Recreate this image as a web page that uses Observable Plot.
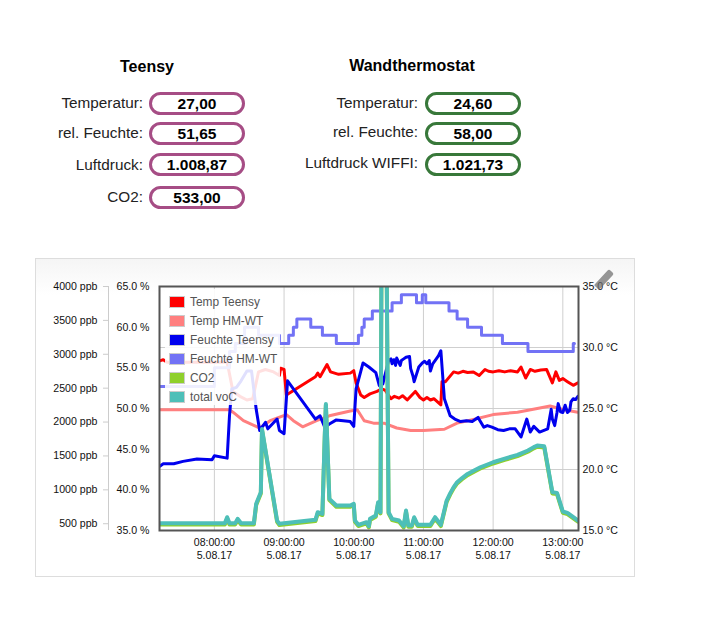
<!DOCTYPE html>
<html>
<head>
<meta charset="utf-8">
<script src="https://cdn.jsdelivr.net/npm/d3@7"></script>
<script src="https://cdn.jsdelivr.net/npm/@observablehq/plot@0.6"></script>
<style>
html,body{margin:0;padding:0;background:#fff;font-family:"Liberation Sans",Arial,sans-serif;}
#page{position:relative;width:706px;height:632px;overflow:hidden;}
.head{position:absolute;font-weight:bold;font-size:16px;color:#000;transform:translate(-50%,-50%);white-space:nowrap;}
.lab{position:absolute;font-size:15.3px;color:#222;transform:translateY(-50%);white-space:nowrap;text-align:right;}
.pill{position:absolute;box-sizing:border-box;width:96px;height:23px;border-radius:11.5px;border:3px solid;background:#fff;text-align:center;font-weight:bold;font-size:15.5px;line-height:18px;color:#000;}
#box{position:absolute;left:35px;top:258px;width:600px;height:319px;box-sizing:border-box;border:1px solid #ddd;background:linear-gradient(#f5f5f5,#fff 36px);}
#plot{position:absolute;left:0;top:0;}
#plot svg{background:transparent;display:block;}
#legend{position:absolute;left:165px;top:289px;width:115px;height:116px;background:rgba(255,255,255,.88);}
.lg{position:absolute;left:4px;height:19px;font-size:11.9px;line-height:19px;color:#545454;white-space:nowrap;padding-left:21px;}
.lg i{position:absolute;left:0;top:3px;width:14px;height:10px;border:1px solid #ccc;padding:0;}
#pen{position:absolute;left:593px;top:275.5px;width:22px;height:7px;background:rgba(110,110,110,.72);transform:rotate(-47deg);border-radius:1px 2px 2px 1px;}
</style>
</head>
<body>
<div id="page">
  <div id="box"></div>
  <div id="plot"></div>
  <div id="legend"></div>
  <div id="pen"></div>
</div>
<script>
// Tiles
const teensyLabels = ["Temperatur:", "rel. Feuchte:", "Luftdruck:", "CO2:"];
const teensyValues = ["27,00", "51,65", "1.008,87", "533,00"];
const wandLabels = ["Temperatur:", "rel. Feuchte:", "Luftdruck WIFFI:"];
const wandValues = ["24,60", "58,00", "1.021,73"];

// Series: [time, value]
const tempTeensy = [["07:13",28.9],["07:16",29.0],["07:19",28.8],["07:40",28.8],["08:11",28.8],["08:16",26.4],["08:22",26.0],["08:28",25.7],["08:33",25.8],["08:38",28.0],["08:44",28.2],["08:51",28.0],["08:56",27.7],["08:57",28.3],["09:00",28.2],["09:02",26.1],["09:27",27.6],["09:29",27.9],["09:31",27.6],["09:37",28.6],["09:40",28.0],["09:47",27.8],["09:57",27.9],["10:00",28.1],["10:02",27.1],["10:06",26.1],["10:09",25.9],["10:14",26.2],["10:20",26.4],["10:24",26.6],["10:27",26.5],["10:32",25.8],["10:35",26.0],["10:39",25.85],["10:42",26.05],["10:46",25.7],["10:53",26.4],["10:57",25.9],["11:00",25.7],["11:03",25.9],["11:06",25.7],["11:09",25.8],["11:15",25.3],["11:16",27.2],["11:19",27.2],["11:26",28.0],["11:30",27.9],["11:34",28.05],["11:38",27.95],["11:43",28.0],["11:48",27.7],["11:53",28.2],["11:56",28.05],["12:00",28.0],["12:05",28.1],["12:10",28.0],["12:15",28.1],["12:21",28.0],["12:24",28.4],["12:28",27.5],["12:32",28.2],["12:36",28.05],["12:41",28.15],["12:46",28.2],["12:51",27.1],["12:54",28.0],["12:57",27.3],["13:00",27.45],["13:04",27.2],["13:09",26.9],["13:13",27.1]];
const tempHMWT = [["07:13",24.9],["08:13",24.9],["08:16",24.7],["08:25",24.0],["08:39",23.4],["08:48",24.0],["09:02",24.5],["09:08",24.0],["09:16",23.5],["09:28",24.0],["09:39",24.4],["09:57",24.8],["10:03",24.9],["10:09",24.0],["10:17",23.8],["10:26",23.8],["10:37",23.4],["10:49",23.2],["11:00",23.2],["11:18",23.3],["11:29",23.8],["11:43",24.1],["12:00",24.5],["12:21",24.7],["12:38",25.0],["12:49",25.2],["13:01",24.9],["13:13",24.7]];
const feuchteTeensy = [["07:13",42.9],["07:16",43.2],["07:25",43.2],["07:33",43.5],["07:45",43.8],["07:58",43.7],["08:00",44.2],["08:11",43.9],["08:13",49.1],["08:15",52.4],["08:19",52.6],["08:23",53.4],["08:28",54.6],["08:32",54.6],["08:36",49.9],["08:39",47.3],["08:44",48.3],["08:46",47.5],["08:54",48.7],["08:56",47.3],["09:00",46.9],["09:03",53.4],["09:27",48.7],["09:31",49.1],["09:35",47.7],["09:39",48.1],["09:45",48.6],["09:57",48.4],["10:00",47.8],["10:02",52.4],["10:08",55.6],["10:13",55.1],["10:19",54.4],["10:22",52.8],["10:24",54.0],["10:25",53.0],["10:30",55.9],["10:32",56.1],["10:33",55.5],["10:34:30",56.0],["10:36",55.3],["10:37",56.2],["10:40",55.3],["10:41",55.9],["10:43",56.1],["10:45",56.3],["10:48",56.4],["10:49",54.9],["10:51",54.0],["10:52",53.3],["10:54",54.2],["10:56",55.1],["10:59",55.6],["11:01",55.8],["11:03",55.5],["11:05",55.9],["11:06",54.6],["11:08",55.5],["11:10",55.9],["11:13",56.5],["11:15",57.1],["11:18",51.2],["11:23",49.1],["11:27",48.7],["11:32",48.4],["11:37",48.5],["11:42",48.4],["11:47",48.9],["11:52",47.7],["11:55",47.9],["11:59",47.7],["12:04",47.4],["12:09",47.3],["12:14",47.5],["12:19",47.5],["12:24",46.5],["12:29",48.7],["12:32",47.1],["12:35",47.8],["12:40",47.1],["12:47",47.5],["12:50",49.9],["12:51",48.7],["12:53",47.9],["12:55",49.5],["12:56",50.6],["12:58",49.6],["13:00",49.5],["13:02",50.4],["13:04",49.5],["13:06",49.8],["13:07",50.8],["13:09",51.2],["13:11",51.1],["13:13",51.5]];
const feuchteHMWT = [["07:13",52.7],["08:00",55],["08:13",57],["08:18",58],["08:26",60],["08:38",59],["08:56",58],["09:04",59],["09:08",60],["09:11",61],["09:23",60],["09:33",59],["09:45",58],["10:04",59],["10:07",60],["10:09",61],["10:16",62],["10:33",63],["10:41",64],["10:54",63],["10:59",64],["11:02",63],["11:22",62],["11:29",61],["11:38",60],["11:50",59],["12:08",58],["12:30",57],["13:09",58],["13:10",58]];
const co2 = [["07:13",490],["08:09",490],["08:11",578],["08:13",490],["08:18",490],["08:20",554],["08:23",490],["08:34",490],["08:36",775],["08:40",947],["08:41",1880],["08:54",529],["08:56",480],["09:27",539],["09:29",652],["09:33",628],["09:35",1757],["09:36",2249],["09:39",849],["09:45",750],["09:57",750],["10:00",775],["10:01",529],["10:04",466],["10:11",505],["10:13",446],["10:14",554],["10:19",603],["10:21",800],["10:23",652],["10:24",5000],["10:28",5000],["10:30",652],["10:33",554],["10:39",529],["10:43",446],["10:45",677],["10:47",456],["10:50",456],["10:52",578],["10:55",466],["11:06",466],["11:10",578],["11:15",466],["11:20",824],["11:23",930],["11:26",1022],["11:29",1094],["11:33",1152],["11:38",1217],["11:44",1272],["11:49",1315],["12:00",1389],["12:10",1442],["12:21",1497],["12:30",1562],["12:35",1612],["12:38",1635],["12:44",1625],["12:51",947],["12:55",937],["13:00",662],["13:04",642],["13:13",529]];
const totalVoC = [["07:13",508],["08:09",508],["08:11",596],["08:13",508],["08:18",508],["08:20",572],["08:23",508],["08:34",508],["08:36",793],["08:40",965],["08:41",1898],["08:54",547],["08:56",498],["09:27",557],["09:29",670],["09:33",646],["09:35",1775],["09:36",2267],["09:39",867],["09:45",768],["09:57",768],["10:00",793],["10:01",547],["10:04",484],["10:11",523],["10:13",464],["10:14",572],["10:19",621],["10:21",818],["10:23",670],["10:24",5000],["10:28",5000],["10:30",670],["10:33",572],["10:39",547],["10:43",464],["10:45",695],["10:47",474],["10:50",474],["10:52",596],["10:55",484],["11:06",484],["11:10",596],["11:15",484],["11:20",842],["11:23",948],["11:26",1040],["11:29",1112],["11:33",1170],["11:38",1235],["11:44",1290],["11:49",1333],["12:00",1407],["12:10",1460],["12:21",1515],["12:30",1580],["12:35",1630],["12:38",1653],["12:44",1643],["12:51",965],["12:55",955],["13:00",680],["13:04",660],["13:13",547]];

// Legend
const legendNames = ["Temp Teensy","Temp HM-WT","Feuchte Teensy","Feuchte HM-WT","CO2","total voC"];
const legendColors = ["#ff0000","#ff7f7f","#0000ee","#7272f5","#8fd02c","#4dbfb8"];

// Axes
const pctTicks = [35,40,45,50,55,60,65];
const ppbTicks = [500,1000,1500,2000,2500,3000,3500,4000];
const tempTicks = [15,20,25,30,35];
const tempGrid = [20,25,30];
const hourTicks = ["08:00","09:00","10:00","11:00","12:00","13:00"];
const dateLabel = "5.08.17";

// The common y scale is in %; the other two axes map onto it.
const fromTemp = t => 35 + (t - 15) * 1.5;
const toTemp = p => 15 + (p - 35) / 1.5;
const fromPpb = v => 35 + (v - 400) / 120;
const toPpb = p => 400 + (p - 35) * 120;
const T = s => { const [h, m, c = 0] = s.split(":").map(Number); return new Date(Date.UTC(2017, 7, 5, h, m, c)); };

const toRows = (arr, conv = v => v) => arr.map(([t, v]) => ({t: T(t), v: conv(v)}));
const line = (rows, color, w, extra = {}) =>
  Plot.line(rows, {x: "t", y: "v", stroke: color, strokeWidth: w, strokeLinejoin: "round", clip: "frame", ...extra});

const chart = Plot.plot({
  width: 706, height: 632,
  marginLeft: 159, marginRight: 128, marginTop: 286, marginBottom: 102,
  style: {background: "transparent", fontFamily: "'Liberation Sans',Arial,sans-serif", fontSize: "10.6px", color: "#111"},
  x: {type: "utc", domain: [T("07:12:45"), T("13:13:30")]},
  y: {domain: [35, 65]},
  marks: [
    Plot.ruleX(hourTicks.map(T), {stroke: "#cfcfcf", strokeWidth: 1}),
    Plot.ruleY(tempGrid.map(fromTemp), {stroke: "#cfcfcf", strokeWidth: 1}),
    line(toRows(tempTeensy, fromTemp), legendColors[0], 3),
    line(toRows(tempHMWT, fromTemp), legendColors[1], 3),
    line(toRows(feuchteTeensy), legendColors[2], 3),
    line(toRows(feuchteHMWT), legendColors[3], 3, {curve: "step-after"}),
    line(toRows(co2, fromPpb), legendColors[4], 4),
    line(toRows(totalVoC, fromPpb), legendColors[5], 4),
    Plot.frame({stroke: "#555", strokeWidth: 2}),
    Plot.axisX({ticks: hourTicks.map(T), tickSize: 0, tickPadding: 6, lineHeight: 1.25, fill: "#111",
      tickFormat: d => d3.utcFormat("%H:%M:%S")(d) + "\n" + dateLabel, label: null}),
    Plot.axisY({anchor: "left", ticks: pctTicks, tickSize: 0, tickPadding: 10, fill: "#111",
      tickFormat: d => d.toFixed(1) + " %", label: null}),
    Plot.axisY({anchor: "left", ticks: ppbTicks.map(fromPpb), tickSize: 5, tickPadding: 6, dx: -51, stroke: "#ccc", fill: "#111",
      tickFormat: d => Math.round(toPpb(d)) + " ppb", label: null}),
    Plot.ruleX([T("07:12:45")], {y1: 35, y2: 65, dx: -51, stroke: "#ccc", clip: false}),
    Plot.axisY({anchor: "right", ticks: tempTicks.map(fromTemp), tickSize: 0, tickPadding: 4, fill: "#111",
      tickFormat: d => toTemp(d).toFixed(1) + " °C", label: null})
  ]
});
document.getElementById("plot").append(chart);

// Tiles and headings
const page = document.getElementById("page");
function add(cls, text, css) {
  const e = document.createElement("div");
  e.className = cls; e.textContent = text; Object.assign(e.style, css); page.append(e); return e;
}
add("head", "Teensy", {left: "147px", top: "67px"});
add("head", "Wandthermostat", {left: "412px", top: "65.5px"});
const teensyRowsLab = [102.5, 133, 164.5, 197], teensyRowsPill = [92, 122, 153, 186];
const wandRowsLab = [102.5, 132, 163], wandRowsPill = [92, 122, 153];
teensyLabels.forEach((s, i) => {
  add("lab", s, {right: (706 - 143) + "px", top: teensyRowsLab[i] + "px"});
  add("pill", teensyValues[i], {left: "149px", top: teensyRowsPill[i] + "px", borderColor: "#a64d85"});
});
wandLabels.forEach((s, i) => {
  add("lab", s, {right: (706 - 418) + "px", top: wandRowsLab[i] + "px"});
  add("pill", wandValues[i], {left: "425px", top: wandRowsPill[i] + "px", borderColor: "#38783a"});
});

// Legend
const lg = document.getElementById("legend");
legendNames.forEach((n, i) => {
  const d = document.createElement("div");
  d.className = "lg"; d.style.top = (3.5 + i * 19) + "px"; d.textContent = n;
  const sw = document.createElement("i"); sw.style.background = legendColors[i];
  d.append(sw); lg.append(d);
});
</script>
</body>
</html>
